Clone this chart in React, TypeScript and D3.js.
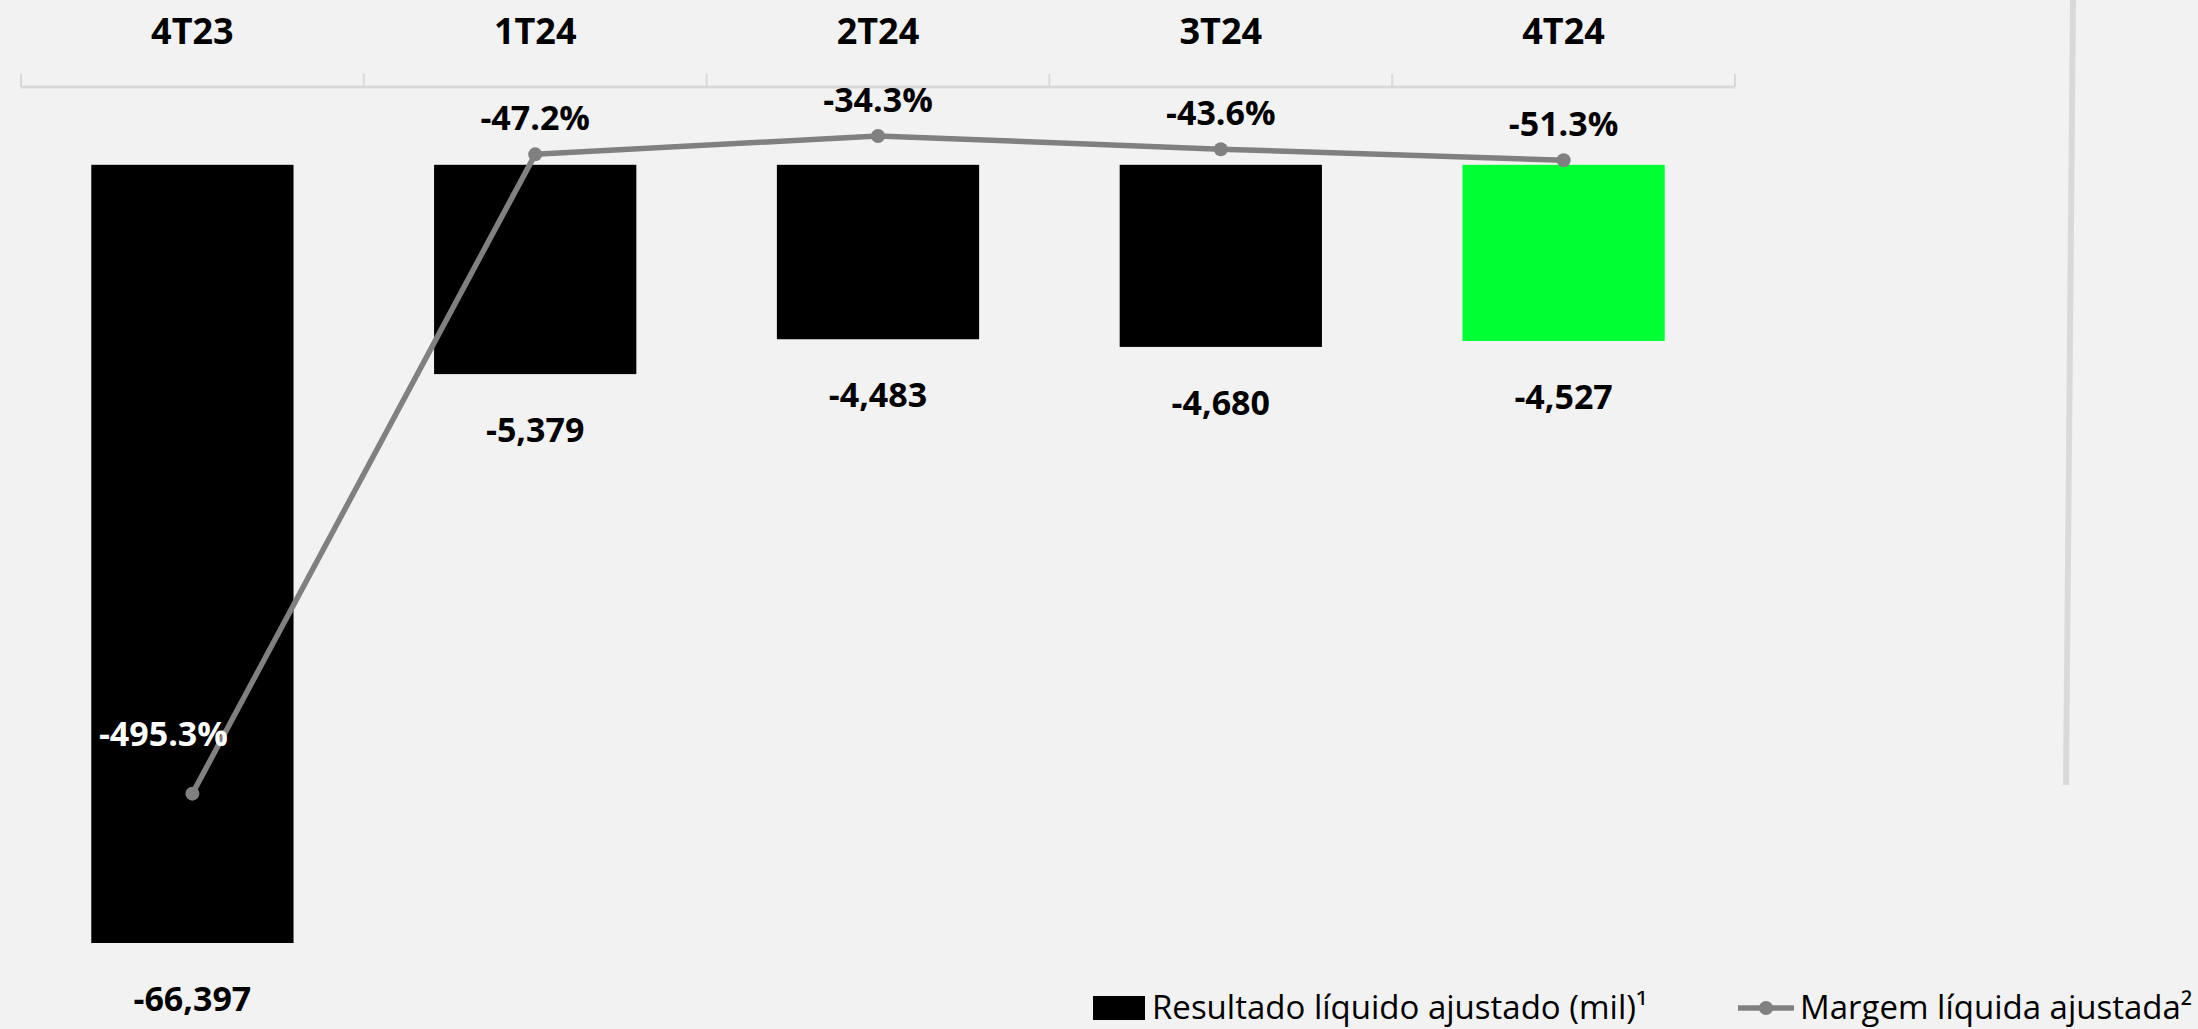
import React from 'react';
import * as d3 from 'd3';

const categories = ['4T23', '1T24', '2T24', '3T24', '4T24'];
const netResult = [-66397, -5379, -4483, -4680, -4527];
const netMargin = [-495.3, -47.2, -34.3, -43.6, -51.3];
const barColors = ['#000000', '#000000', '#000000', '#000000', '#00FF33'];
const legendLabels = ['Resultado líquido ajustado (mil)¹', 'Margem líquida ajustada²'];

const W = 2198;
const H = 1029;
const plotLeft = 21;
const plotRight = 1735;
const plotTop = 87;
const plotBottom = 943;
const FONT = "'Open Sans', 'Noto Sans', sans-serif";

const locale = d3.formatLocale({ decimal: '.', thousands: ',', grouping: [3], currency: ['', ''], minus: '-' });
const fmtInt = locale.format(',.0f');
const fmtPct = (v: number) => locale.format('.1f')(v) + '%';

export default function App() {
  const x = d3
    .scaleBand<string>()
    .domain(categories)
    .range([plotLeft, plotRight])
    .paddingInner(0.41)
    .paddingOuter(0.205);
  const step = x.step();
  const bw = x.bandwidth();
  const cx = (c: string) => (x(c) as number) + bw / 2;

  // bar axis (broken: values beyond the minimum are clamped)
  const yBar = d3.scaleLinear().domain([2000, -20000]).range([plotTop, plotBottom]).clamp(true);
  // margin axis
  const yLine = d3.scaleLinear().domain([0, -600]).range([plotTop, plotBottom]);

  const pts: [number, number][] = categories.map((c, i) => [cx(c), yLine(netMargin[i])]);
  const linePath = d3.line()(pts) as string;

  const boundaries = d3.range(categories.length + 1).map((i) => plotLeft + i * step);

  return (
    <div style={{ position: 'absolute', left: 0, top: 0 }}>
      <svg width={W} height={H} style={{ display: 'block' }}>
        <rect x={0} y={0} width={W} height={H} fill="#f2f2f2" />

        {/* decorative divider on the right */}
        <line x1={2073} y1={0} x2={2066} y2={785} stroke="#d9d9d9" strokeWidth={6} />

        {/* top category axis */}
        <line x1={plotLeft} x2={plotRight} y1={plotTop} y2={plotTop} stroke="#d9d9d9" strokeWidth={3} />
        {boundaries.map((bx, i) => (
          <line key={i} x1={bx} x2={bx} y1={plotTop - 13} y2={plotTop} stroke="#d9d9d9" strokeWidth={2} />
        ))}
        {categories.map((c) => (
          <text key={c} x={cx(c)} y={44} textAnchor="middle" fontFamily={FONT} fontWeight={700} fontSize={36} fill="#000">
            {c}
          </text>
        ))}

        {/* bars */}
        {categories.map((c, i) => {
          const y0 = yBar(0);
          const y1 = yBar(netResult[i]);
          return <rect key={c} x={x(c)} y={Math.min(y0, y1)} width={bw} height={Math.abs(y1 - y0)} fill={barColors[i]} />;
        })}

        {/* bar labels */}
        {categories.map((c, i) => (
          <text key={c} x={cx(c)} y={yBar(netResult[i]) + 68} textAnchor="middle" fontFamily={FONT} fontWeight={700} fontSize={34} fill="#000">
            {fmtInt(netResult[i])}
          </text>
        ))}

        {/* line */}
        <path d={linePath} fill="none" stroke="#808080" strokeWidth={5.5} strokeLinejoin="round" />
        {pts.map((p, i) => (
          <circle key={i} cx={p[0]} cy={p[1]} r={7} fill="#808080" />
        ))}

        {/* line labels */}
        {categories.map((c, i) => {
          const inside = pts[i][1] > yBar(0) && pts[i][1] < yBar(netResult[i]);
          const ly = pts[i][1] - (inside ? 48 : 24);
          return (
            <text
              key={c}
              x={pts[i][0] - (inside ? 29 : 0)}
              y={ly}
              textAnchor="middle"
              fontFamily={FONT}
              fontWeight={700}
              fontSize={34}
              fill={inside ? '#fff' : '#000'}
            >
              {fmtPct(netMargin[i])}
            </text>
          );
        })}

        {/* legend */}
        <rect x={1093} y={996} width={52} height={24} fill={barColors[0]} />
        <text x={1152} y={1019} fontFamily={FONT} fontSize={33} fill="#000">
          {legendLabels[0]}
        </text>
        <line x1={1738} x2={1794} y1={1008} y2={1008} stroke="#808080" strokeWidth={5.5} />
        <circle cx={1766} cy={1008} r={7} fill="#808080" />
        <text x={1800} y={1019} fontFamily={FONT} fontSize={33} fill="#000">
          {legendLabels[1]}
        </text>
      </svg>
    </div>
  );
}
